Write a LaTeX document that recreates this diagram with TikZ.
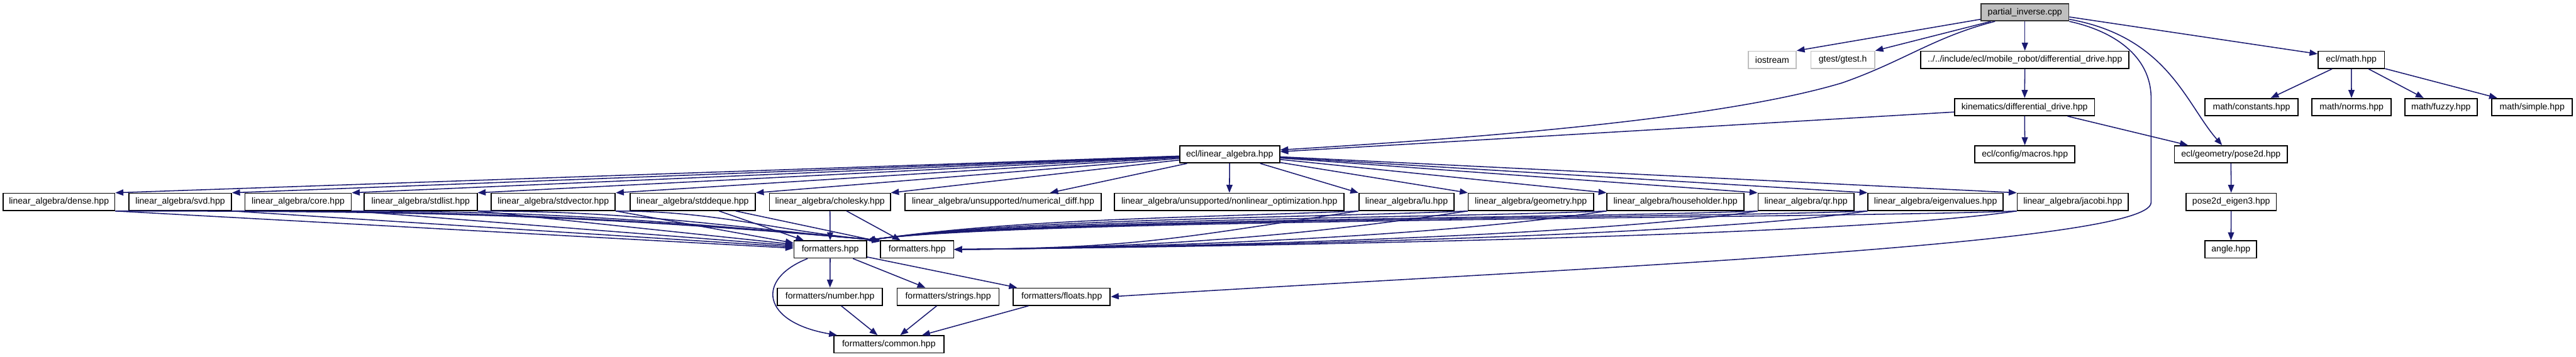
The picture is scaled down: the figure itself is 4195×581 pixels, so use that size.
\documentclass[tikz,border=0pt]{standalone}
\usepackage{fontspec}
\setmainfont{Liberation Sans}
\usepackage{xcolor}
\usetikzlibrary{arrows.meta}
\definecolor{edgeblue}{HTML}{191970}
\definecolor{rootgrey}{HTML}{BFBFBF}
\definecolor{extgrey}{HTML}{BFBFBF}

\begin{document}
\begin{tikzpicture}[x=0.02cm, y=-0.02cm,
      box/.style={draw=black, line width=1pt, fill=white, minimum height=0.56cm,
                  inner sep=0pt, font=\fontsize{8.2}{9}\selectfont},
      rootbox/.style={box, fill=rootgrey, draw=black!80},
      extbox/.style={box, draw=extgrey},
      arr/.style={-{Triangle[length=0.26cm,width=0.2cm]}, line width=0.9pt, color=edgeblue}
    ]
    \useasboundingbox (0,0) rectangle (4195,581);

    % Test file
    \node[rootbox, minimum width=2.86cm] (partial) at (3297.5,20) {partial\_inverse.cpp};

    % First level
    \node[extbox, minimum width=1.56cm] (iostream) at (2886,97.5)   {iostream};
    \node[extbox, minimum width=2.08cm] (gtest)    at (3001,97.5)   {gtest/gtest.h};
    \node[box, minimum width=6.78cm]    (mobile)   at (3297.5,97.5) {../../include/ecl/mobile\_robot/differential\_drive.hpp};
    \node[box, minimum width=2.16cm]    (eclmath)  at (3829,97.5)   {ecl/math.hpp};

    % Second level
    \node[box, minimum width=4.56cm] (kinematics) at (3297,174.5)   {kinematics/differential\_drive.hpp};
    \node[box, minimum width=3.02cm] (constants)  at (3666.5,174.5) {math/constants.hpp};
    \node[box, minimum width=2.58cm] (norms)      at (3829.5,174.5) {math/norms.hpp};
    \node[box, minimum width=2.36cm] (fuzzy)      at (3975,174.5)   {math/fuzzy.hpp};
    \node[box, minimum width=2.62cm] (simple)     at (4123.5,174.5) {math/simple.hpp};

    % Third level
    \node[box, minimum width=3.26cm] (linalg) at (2002.5,251.5) {ecl/linear\_algebra.hpp};
    \node[box, minimum width=3.26cm] (macros) at (3297.5,251.5) {ecl/config/macros.hpp};
    \node[box, minimum width=3.68cm] (pose)   at (3633,251.5)   {ecl/geometry/pose2d.hpp};

    % Linear algebra headers
    \node[box, minimum width=3.64cm] (dense)       at (96,329)     {linear\_algebra/dense.hpp};
    \node[box, minimum width=3.34cm] (svd)         at (293.5,329)  {linear\_algebra/svd.hpp};
    \node[box, minimum width=3.46cm] (core)        at (485.5,329)  {linear\_algebra/core.hpp};
    \node[box, minimum width=3.68cm] (stdlist)     at (685,329)    {linear\_algebra/stdlist.hpp};
    \node[box, minimum width=4.04cm] (stdvector)   at (901,329)    {linear\_algebra/stdvector.hpp};
    \node[box, minimum width=4.08cm] (stddeque)    at (1128,329)   {linear\_algebra/stddeque.hpp};
    \node[box, minimum width=3.94cm] (cholesky)    at (1351.5,329) {linear\_algebra/cholesky.hpp};
    \node[box, minimum width=6.38cm] (numdiff)     at (1633.5,329) {linear\_algebra/unsupported/numerical\_diff.hpp};
    \node[box, minimum width=7.48cm] (nonlin)      at (2002,329)   {linear\_algebra/unsupported/nonlinear\_optimization.hpp};
    \node[box, minimum width=3.10cm] (lu)          at (2290.5,329) {linear\_algebra/lu.hpp};
    \node[box, minimum width=4.08cm] (geometry)    at (2493,329)   {linear\_algebra/geometry.hpp};
    \node[box, minimum width=4.46cm] (householder) at (2728.5,329) {linear\_algebra/householder.hpp};
    \node[box, minimum width=3.12cm] (qr)          at (2941,329)   {linear\_algebra/qr.hpp};
    \node[box, minimum width=4.40cm] (eigen)       at (3152,329)   {linear\_algebra/eigenvalues.hpp};
    \node[box, minimum width=3.62cm] (jacobi)      at (3375.5,329) {linear\_algebra/jacobi.hpp};
    \node[box, minimum width=2.94cm] (eigenthree)  at (3633.5,329) {pose2d\_eigen3.hpp};

    % Formatters
    \node[box, minimum width=2.36cm] (fmt)     at (1352,406.5)   {formatters.hpp};
    \node[box, minimum width=2.38cm] (fmtb)    at (1493.5,406.5) {formatters.hpp};
    \node[box, minimum width=1.68cm] (angle)   at (3633,406.5)   {angle.hpp};
    \node[box, minimum width=3.42cm] (number)  at (1351.5,483.5) {formatters/number.hpp};
    \node[box, minimum width=3.32cm] (strings) at (1544,483.5)   {formatters/strings.hpp};
    \node[box, minimum width=3.16cm] (floats)  at (1729,483.5)   {formatters/floats.hpp};
    \node[box, minimum width=3.58cm] (common)  at (1447.5,561)   {formatters/common.hpp};

    % Includes of the test file
    \draw[arr] (partial.189) -- (iostream.north east);
    \draw[arr] (partial.195) -- (gtest.north east);
    \draw[arr] (partial) -- (mobile);
    \draw[arr] (partial.197) .. controls (3150,60) and (3100,100) .. (3000,135)
               .. controls (2800,195) and (2400,225) .. (linalg.5);
    \draw[arr] (partial.-9) .. controls (3530,60) and (3560,170) .. (pose.134);
    \draw[arr] (partial.south east) .. controls (3440,50) and (3503,90) .. (3503,160)
               -- (3503,330) .. controls (3503,400) and (2500,440) .. (floats.east);
    \draw[arr] (partial.-6) -- (eclmath.170);

    % Mobile robot chain
    \draw[arr] (mobile) -- (kinematics);
    \draw[arr] (kinematics.184) -- (linalg.3);
    \draw[arr] (kinematics) -- (macros);
    \draw[arr] (kinematics.-12) -- (pose.168);

    % Math
    \draw[arr] (eclmath) -- (constants);
    \draw[arr] (eclmath) -- (norms);
    \draw[arr] (eclmath) -- (fuzzy);
    \draw[arr] (eclmath) -- (simple);

    % Geometry chain
    \draw[arr] (pose) -- (eigenthree);
    \draw[arr] (eigenthree) -- (angle);

    % Linear algebra includes
    \draw[arr] (linalg) -- (dense.north east);
    \draw[arr] (linalg) -- (svd.north east);
    \draw[arr] (linalg) -- (core.north east);
    \draw[arr] (linalg) -- (stdlist.north east);
    \draw[arr] (linalg) -- (stdvector.north east);
    \draw[arr] (linalg) -- (stddeque.north east);
    \draw[arr] (linalg) -- (cholesky.north east);
    \draw[arr] (linalg) -- (numdiff.11);
    \draw[arr] (linalg) -- (nonlin);
    \draw[arr] (linalg) -- (lu.north west);
    \draw[arr] (linalg) -- (geometry.north west);
    \draw[arr] (linalg) -- (householder.north west);
    \draw[arr] (linalg) -- (qr.north west);
    \draw[arr] (linalg) -- (eigen.north west);
    \draw[arr] (linalg) -- (jacobi.north west);

    % Headers to the formatters (left side)
    \draw[arr] (dense.south east) -- (fmt.178);
    \draw[arr] (dense.south east) to[out=0,in=175] (fmtb.north west);
    \draw[arr] (svd.south east) -- (fmt.176);
    \draw[arr] (svd.south east) to[out=0,in=175] (fmtb.north west);
    \draw[arr] (core.south east) -- (fmt.174);
    \draw[arr] (core.south east) to[out=0,in=175] (fmtb.north west);
    \draw[arr] (stdlist.south east) -- (fmt.172);
    \draw[arr] (stdlist.south east) to[out=0,in=175] (fmtb.north west);
    \draw[arr] (stdvector.south east) -- (fmt.170);
    \draw[arr] (stdvector.south east) to[out=0,in=175] (fmtb.north west);
    \draw[arr] (stddeque) -- (fmt);
    \draw[arr] (stddeque) -- (fmtb);
    \draw[arr] (cholesky) -- (fmt);
    \draw[arr] (cholesky) -- (fmtb);

    % Headers to the formatters (right side)
    \draw[arr] (lu.south west) .. controls +(-300,12) and +(250,-35) .. (fmt.north east);
    \draw[arr] (lu.south west) .. controls +(-300,45) and +(300,-3) .. (fmtb.east);
    \draw[arr] (geometry.south west) .. controls +(-300,12) and +(250,-35) .. (fmt.north east);
    \draw[arr] (geometry.south west) .. controls +(-300,45) and +(300,-3) .. (fmtb.east);
    \draw[arr] (householder.south west) .. controls +(-300,12) and +(250,-35) .. (fmt.north east);
    \draw[arr] (householder.south west) .. controls +(-300,45) and +(300,-3) .. (fmtb.east);
    \draw[arr] (qr.south west) .. controls +(-300,12) and +(250,-35) .. (fmt.north east);
    \draw[arr] (qr.south west) .. controls +(-300,45) and +(300,-3) .. (fmtb.east);
    \draw[arr] (eigen.south west) .. controls +(-300,12) and +(250,-35) .. (fmt.north east);
    \draw[arr] (eigen.south west) .. controls +(-300,45) and +(300,-3) .. (fmtb.east);
    \draw[arr] (jacobi.south west) .. controls +(-300,12) and +(250,-35) .. (fmt.north east);
    \draw[arr] (jacobi.south west) .. controls +(-300,45) and +(300,-3) .. (fmtb.east);

    % Formatters
    \draw[arr] (fmt) -- (number);
    \draw[arr] (fmt) -- (strings);
    \draw[arr] (fmt) -- (floats);
    \draw[arr] (fmt.-158) .. controls (1230,455) and (1240,525) .. (common.170);
    \draw[arr] (number) -- (common);
    \draw[arr] (strings) -- (common);
    \draw[arr] (floats) -- (common);

  \end{tikzpicture}
\end{document}
